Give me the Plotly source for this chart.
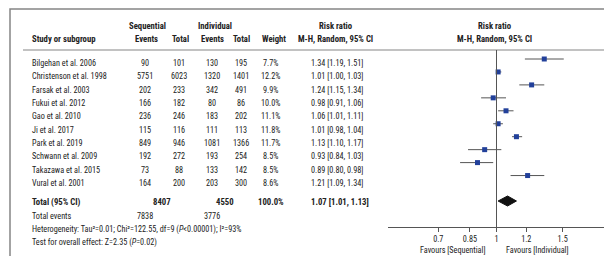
import plotly.graph_objects as go
import math

# ---------------- data ----------------
studies = ["Bilgehan et al. 2006", "Christenson et al. 1998", "Farsak et al. 2003",
           "Fukui et al. 2012", "Gao et al. 2010", "Ji et al. 2017", "Park et al. 2019",
           "Schwann et al. 2009", "Takazawa et al. 2015", "Vural et al. 2001"]
seq_events = [90, 5751, 202, 166, 236, 115, 849, 192, 73, 164]
seq_total = [101, 6023, 233, 182, 246, 116, 946, 272, 88, 200]
ind_events = [130, 1320, 342, 80, 183, 111, 1081, 193, 133, 203]
ind_total = [195, 1401, 491, 86, 202, 113, 1366, 254, 142, 300]
weights = [7.7, 12.2, 9.9, 10.0, 11.1, 11.8, 11.7, 8.5, 8.5, 8.6]
rr = [1.34, 1.01, 1.24, 0.98, 1.06, 1.01, 1.13, 0.93, 0.89, 1.21]
rr_lo = [1.19, 1.00, 1.15, 0.91, 1.01, 0.98, 1.10, 0.84, 0.80, 1.09]
rr_hi = [1.51, 1.03, 1.34, 1.06, 1.11, 1.04, 1.17, 1.03, 0.98, 1.34]
total_seq, total_ind = 8407, 4550
events_seq, events_ind = 7838, 3776
pooled_rr, pooled_lo, pooled_hi = 1.07, 1.01, 1.13
tick_vals = [0.7, 0.85, 1, 1.2, 1.5]
tick_text = ["0.7", "0.85", "1", "1.2", "1.5"]

# ---------------- layout constants (pixels) ----------------
W, H = 612, 256
FONT = "Roboto Condensed, DejaVu Sans Condensed, sans-serif"
FS = 8.2
FS_B = 8.7
TXT = "#222222"
ROW0, STEP = 55.0, 13.33          # text rows
MROW0, MSTEP = 51.0, 12.95        # plot rows (slightly tighter in the original)
row_y = [ROW0 + i * STEP for i in range(len(studies))]
mark_y = [MROW0 + i * MSTEP for i in range(len(studies))]
Y_TOTAL = 194
Y_DIAMOND = 193
Y_EVENTS = 207.5
Y_HET = 221
Y_TEST = 234.5
Y_H1, Y_H2 = 18, 31
Y_LINE = 42
Y_AXIS = 219
Y_FAV = 242
X_AX0, X_AX1 = 380, 597

X_STUDY = 22
X_SEQ_EV, X_SEQ_TOT, X_IND_EV, X_IND_TOT, X_W = 137, 171, 204, 233, 262
X_RR = 301

fig = go.Figure()

# confidence intervals + squares
fig.add_trace(go.Scatter(
    x=rr, y=mark_y, mode="markers",
    marker=dict(symbol="square", size=5, color="#22409a"),
    error_x=dict(type="data", symmetric=False,
                 array=[h - r for h, r in zip(rr_hi, rr)],
                 arrayminus=[r - l for r, l in zip(rr, rr_lo)],
                 color="#555555", thickness=1, width=0),
    hoverinfo="skip", showlegend=False))

# pooled diamond
dh = 5
fig.add_trace(go.Scatter(
    x=[pooled_lo, pooled_rr, pooled_hi, pooled_rr, pooled_lo],
    y=[Y_DIAMOND, Y_DIAMOND - dh, Y_DIAMOND, Y_DIAMOND + dh, Y_DIAMOND],
    mode="lines", fill="toself", fillcolor="#111111",
    line=dict(color="#111111", width=1), hoverinfo="skip", showlegend=False))

ann = []


def px(x):
    return x / W


def add_text(x, y, text, anchor="center", bold=False):
    if bold:
        text = "<b>" + text + "</b>"
    ann.append(dict(x=px(x), y=y, xref="paper", yref="y", text=text, showarrow=False,
                    xanchor=anchor, yanchor="middle",
                    font=dict(family=FONT, size=FS_B if bold else FS, color=TXT)))


# headers
add_text(139, Y_H1, "Sequential", bold=True)
add_text(207, Y_H1, "Individual", bold=True)
add_text(328, Y_H1, "Risk ratio", bold=True)
add_text(487, Y_H1, "Risk ratio", bold=True)
add_text(X_STUDY, Y_H2, "Study or subgroup", "left", bold=True)
add_text(X_SEQ_EV + 1, Y_H2, "Events", bold=True)
add_text(X_SEQ_TOT + 1, Y_H2, "Total", bold=True)
add_text(X_IND_EV, Y_H2, "Events", bold=True)
add_text(X_IND_TOT, Y_H2, "Total", bold=True)
add_text(266, Y_H2, "Weight", bold=True)
add_text(327, Y_H2, "M-H, Random, 95% CI", bold=True)
add_text(487, Y_H2, "M-H, Random, 95% CI", bold=True)

# study rows
for i, s in enumerate(studies):
    y = row_y[i]
    add_text(X_STUDY, y, s, "left")
    add_text(X_SEQ_EV, y, str(seq_events[i]))
    add_text(X_SEQ_TOT, y, str(seq_total[i]))
    add_text(X_IND_EV, y, str(ind_events[i]))
    add_text(X_IND_TOT, y, str(ind_total[i]))
    add_text(X_W, y, f"{weights[i]:.1f}%")
    add_text(X_RR, y, f"{rr[i]:.2f} [{rr_lo[i]:.2f}, {rr_hi[i]:.2f}]", "left")

# totals
add_text(X_STUDY, Y_TOTAL, "Total (95% CI)", "left", bold=True)
add_text(154, Y_TOTAL, str(total_seq), bold=True)
add_text(217, Y_TOTAL, str(total_ind), bold=True)
add_text(X_W + 1, Y_TOTAL, f"{sum(weights):.1f}%", bold=True)
add_text(X_RR, Y_TOTAL, f"{pooled_rr:.2f} [{pooled_lo:.2f}, {pooled_hi:.2f}]", "left", bold=True)
add_text(X_STUDY, Y_EVENTS, "Total events", "left")
add_text(X_SEQ_EV, Y_EVENTS, str(events_seq))
add_text(X_IND_EV, Y_EVENTS, str(events_ind))
add_text(X_STUDY, Y_HET,
         "Heterogeneity: Tau\u00b2=0.01; Chi\u00b2=122.55, df=9 (<i>P</i><0.00001); I\u00b2=93%", "left")
add_text(X_STUDY, Y_TEST, "Test for overall effect: Z=2.35 (<i>P</i>=0.02)", "left")

# favours labels
add_text(479, Y_FAV, "Favours [Sequential]", "right")
add_text(496, Y_FAV, "Favours [Individual]", "left")

shapes = [
    # outer frame
    dict(type="rect", xref="paper", yref="paper", x0=px(2), x1=px(610), y0=1 - 254.5 / H, y1=1 - 1 / H,
         line=dict(color="#858585", width=1.5)),
    # header rule
    dict(type="line", xref="paper", yref="y", x0=px(15), x1=px(597), y0=Y_LINE, y1=Y_LINE,
         line=dict(color="#858585", width=1)),
    # line of no effect
    dict(type="line", xref="x", yref="y", x0=1, x1=1, y0=Y_LINE, y1=Y_AXIS,
         line=dict(color="#555555", width=1)),
]

lg_half = math.log10(1.944)
fig.update_layout(
    width=W, height=H, margin=dict(l=0, r=0, t=0, b=0),
    paper_bgcolor="white", plot_bgcolor="rgba(0,0,0,0)",
    annotations=ann, shapes=shapes, showlegend=False,
    xaxis=dict(type="log", domain=[px(X_AX0), px(X_AX1)], range=[-lg_half, lg_half],
               anchor="free", position=1 - Y_AXIS / H,
               tickvals=tick_vals, ticktext=tick_text, ticks="outside", ticklen=4,
               tickcolor="#555555", showline=True, linecolor="#555555", linewidth=1,
               showgrid=False, zeroline=False,
               tickfont=dict(family=FONT, size=FS, color=TXT)),
    yaxis=dict(domain=[0, 1], range=[H, 0], visible=False, showgrid=False, zeroline=False),
)

fig.write_html("out.html")
